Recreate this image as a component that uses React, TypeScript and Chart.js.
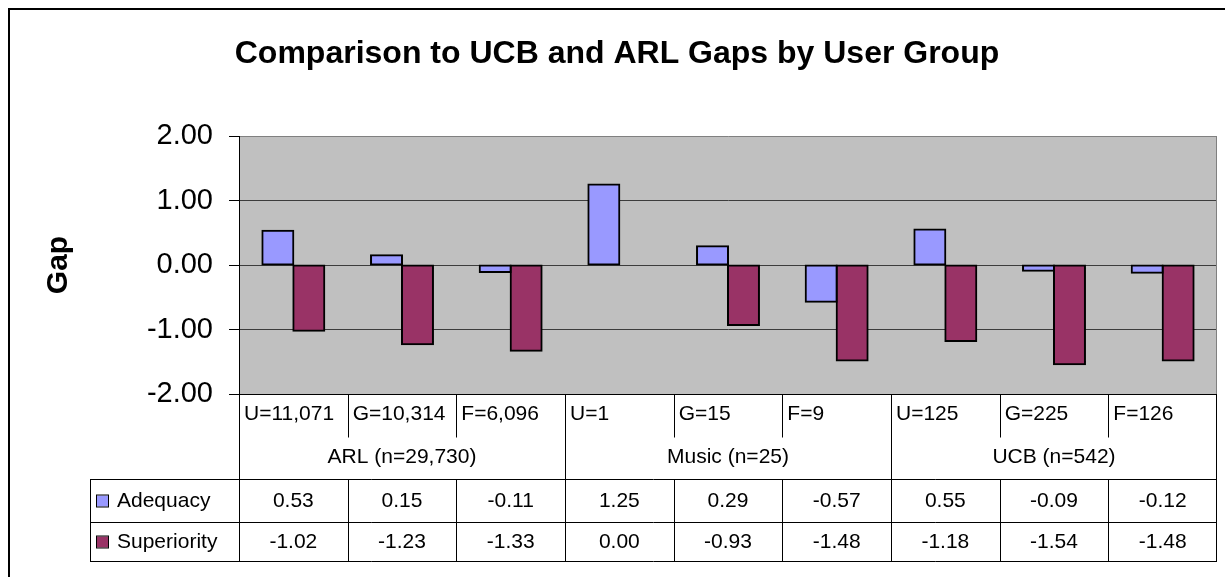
import React, { useEffect, useRef } from 'react';
import { Chart, registerables } from 'chart.js';

Chart.register(...registerables);

const subLabels = ['U=11,071', 'G=10,314', 'F=6,096', 'U=1', 'G=15', 'F=9', 'U=125', 'G=225', 'F=126'];
const groupLabels = ['ARL (n=29,730)', 'Music (n=25)', 'UCB (n=542)'];
const groupSizes = [3, 3, 3];
const adequacy = [0.53, 0.15, -0.11, 1.25, 0.29, -0.57, 0.55, -0.09, -0.12];
const superiority = [-1.02, -1.23, -1.33, 0.0, -0.93, -1.48, -1.18, -1.54, -1.48];
const seriesNames = ['Adequacy', 'Superiority'];
const seriesColors = ['#9999FF', '#993366'];
const yMin = -2;
const yMax = 2;
const yStep = 1;
const titleText = 'Comparison to UCB and ARL Gaps by User Group';
const yTitle = 'Gap';

const FONT = "'Liberation Sans', Arial, Helvetica, sans-serif";

const tablePlugin = {
  id: 'excelTable',
  beforeDraw(chart: any) {
    const { ctx, chartArea } = chart;
    ctx.save();
    ctx.fillStyle = '#C0C0C0';
    ctx.fillRect(chartArea.left, chartArea.top, chartArea.right - chartArea.left, chartArea.bottom - chartArea.top);
    ctx.restore();
  },
  afterDraw(chart: any) {
    const { ctx, chartArea } = chart;
    const xs = chart.scales.x;
    const n = subLabels.length;
    const half = (xs.getPixelForValue(1) - xs.getPixelForValue(0)) / 2;
    const edges: number[] = [];
    for (let i = 0; i < n; i++) edges.push(xs.getPixelForValue(i) - half);
    edges.push(xs.getPixelForValue(n - 1) + half);
    const r = (v: number) => Math.round(v) + 0.5;

    const top = chartArea.bottom;
    const headerSplit = top + 43;
    const headerBottom = top + 85;
    const row1Bottom = headerBottom + 43;
    const row2Bottom = row1Bottom + 39;
    const legendLeft = 90;

    ctx.save();
    // plot area right border (gray)
    ctx.strokeStyle = '#808080';
    ctx.lineWidth = 1;
    ctx.beginPath();
    ctx.moveTo(r(chartArea.right) - 1, chartArea.top);
    ctx.lineTo(r(chartArea.right) - 1, chartArea.bottom);
    ctx.stroke();

    ctx.strokeStyle = '#000';
    ctx.lineWidth = 1;
    ctx.beginPath();
    for (const y of [headerBottom, row1Bottom, row2Bottom]) {
      ctx.moveTo(legendLeft, r(y));
      ctx.lineTo(edges[n], r(y));
    }
    ctx.moveTo(edges[0], r(top));
    ctx.lineTo(edges[n], r(top));
    ctx.moveTo(r(legendLeft), r(headerBottom));
    ctx.lineTo(r(legendLeft), r(row2Bottom));
    ctx.moveTo(r(edges[0]), top);
    ctx.lineTo(r(edges[0]), r(row2Bottom));
    ctx.moveTo(r(edges[n]) - 1, top);
    ctx.lineTo(r(edges[n]) - 1, r(row2Bottom));
    let idx = 0;
    const groupEdges = new Set<number>();
    for (const g of groupSizes) { idx += g; groupEdges.add(idx); }
    for (let i = 1; i < n; i++) {
      const x = r(edges[i]);
      if (groupEdges.has(i)) {
        ctx.moveTo(x, top);
        ctx.lineTo(x, r(row2Bottom));
      } else {
        ctx.moveTo(x, top);
        ctx.lineTo(x, r(headerSplit));
        ctx.moveTo(x, r(headerBottom));
        ctx.lineTo(x, r(row2Bottom));
      }
    }
    ctx.stroke();

    ctx.fillStyle = '#000';
    ctx.font = `21px ${FONT}`;
    ctx.textBaseline = 'middle';
    ctx.textAlign = 'left';
    subLabels.forEach((s, i) => ctx.fillText(s, edges[i] + 5, top + 20));
    ctx.textAlign = 'center';
    let start = 0;
    groupLabels.forEach((g, gi) => {
      const end = start + groupSizes[gi];
      ctx.fillText(g, (edges[start] + edges[end]) / 2, top + 63);
      start = end;
    });
    const rows = [adequacy, superiority];
    const rowCenters = [(headerBottom + row1Bottom) / 2, (row1Bottom + row2Bottom) / 2];
    rows.forEach((vals, ri) => {
      ctx.textAlign = 'center';
      vals.forEach((v, i) => ctx.fillText(v.toFixed(2), (edges[i] + edges[i + 1]) / 2, rowCenters[ri] + 1));
      ctx.fillStyle = seriesColors[ri];
      ctx.fillRect(97, rowCenters[ri] - 5, 11, 11);
      ctx.strokeStyle = '#000';
      ctx.lineWidth = 1;
      ctx.strokeRect(96.5, rowCenters[ri] - 5.5, 12, 12);
      ctx.fillStyle = '#000';
      ctx.textAlign = 'left';
      ctx.fillText(seriesNames[ri], 117, rowCenters[ri] + 1);
    });

    ctx.strokeStyle = '#000';
    ctx.lineWidth = 2;
    ctx.strokeRect(9, 9, 1400, 800);
    ctx.restore();
  },
};

export default function App() {
  const ref = useRef<HTMLCanvasElement | null>(null);
  useEffect(() => {
    document.body.style.margin = '0';
    document.body.style.overflow = 'hidden';
    const canvas = ref.current;
    if (!canvas) return;
    const chart = new Chart(canvas, {
      type: 'bar',
      data: {
        labels: subLabels,
        datasets: [
          {
            label: seriesNames[0],
            data: adequacy,
            backgroundColor: seriesColors[0],
            borderColor: '#000',
            borderWidth: 2,
            borderSkipped: false,
            inflateAmount: 1,
          },
          {
            label: seriesNames[1],
            data: superiority,
            backgroundColor: seriesColors[1],
            borderColor: '#000',
            borderWidth: 2,
            borderSkipped: false,
            inflateAmount: 1,
          },
        ],
      },
      options: {
        responsive: false,
        animation: false,
        devicePixelRatio: 1,
        datasets: { bar: { categoryPercentage: 0.57, barPercentage: 1.0 } },
        layout: { padding: { left: 17, right: 8, top: 0, bottom: 183 } },
        plugins: {
          legend: { display: false },
          tooltip: { enabled: false },
          title: {
            display: true,
            text: titleText,
            color: '#000',
            font: { family: FONT, size: 32, weight: 'bold' },
            padding: { top: 35, bottom: 62.6 },
          },
        },
        scales: {
          x: {
            grid: { display: false, drawTicks: false },
            ticks: { display: false },
            border: { display: false },
            afterFit: (s: any) => { s.height = 0; },
          },
          y: {
            min: yMin,
            max: yMax,
            afterFit: (s: any) => { s.width = 222; },
            ticks: {
              stepSize: yStep,
              color: '#000',
              padding: 16,
              font: { family: FONT, size: 29 },
              callback: (v: any) => Number(v).toFixed(2),
            },
            grid: {
              color: (c: any) => (c.tick && c.tick.value === yMax ? '#808080' : '#3c3c3c'),
              tickColor: '#000',
              tickLength: 10,
              lineWidth: 1,
            },
            border: { display: true, color: '#000', width: 1 },
            title: {
              display: true,
              text: yTitle,
              color: '#000',
              font: { family: FONT, size: 30, weight: 'bold' },
              padding: { top: 24, bottom: 0 },
            },
          },
        },
      },
      plugins: [tablePlugin],
    });
    return () => chart.destroy();
  }, []);
  return <canvas ref={ref} width={1225} height={577} style={{ display: 'block', width: 1225, height: 577 }} />;
}
